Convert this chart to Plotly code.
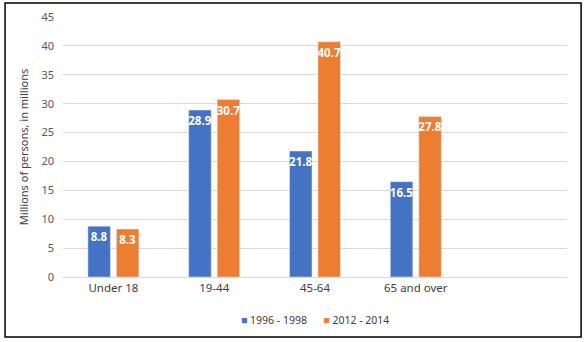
import plotly.graph_objects as go

categories = ["Under 18", "19-44", "45-64", "65 and over"]
series_1996 = [8.8, 28.9, 21.8, 16.5]
series_2012 = [8.3, 30.7, 40.7, 27.8]
series_names = ["1996 - 1998", "2012 - 2014"]
y_ticks = [0, 5, 10, 15, 20, 25, 30, 35, 40, 45]

BLUE = "#4472C4"
ORANGE = "#ED7D31"
GREY = "#595959"
FONT = "Noto Sans"

fig = go.Figure()
for name, vals, col in [(series_names[0], series_1996, BLUE), (series_names[1], series_2012, ORANGE)]:
    fig.add_trace(go.Bar(
        x=categories, y=vals, name=name, marker_color=col,
        text=[f"{v:.1f}" for v in vals], textposition="inside", textangle=0,
        insidetextanchor="end", constraintext="none", cliponaxis=False,
        textfont=dict(color="white", size=11.5, family=FONT, weight="bold"),
    ))

legend_text = (f"<span style='color:{BLUE}'>■</span> {series_names[0]}"
               f"      <span style='color:{ORANGE}'>■</span> {series_names[1]}")

fig.update_layout(
    width=587, height=342,
    margin=dict(l=63, r=20, t=17, b=65, autoexpand=False),
    paper_bgcolor="white", plot_bgcolor="white",
    barmode="group", bargap=0.435, bargroupgap=0.21,
    font=dict(family=FONT, size=10, color=GREY),
    showlegend=False,
    xaxis=dict(type="category", range=[-0.5, 4.5], showgrid=False, showline=True,
               linecolor="#D9D9D9", ticks="", tickfont=dict(size=11.5, color="#404040")),
    yaxis=dict(range=[0, 45], tickvals=y_ticks, showgrid=True, gridcolor="#D9D9D9",
               zeroline=False, showline=False, ticks="", ticklabelstandoff=8,
               title=dict(text="Millions of persons, in millions", font=dict(size=11, color="#404040"), standoff=10),
               tickfont=dict(size=11, color=GREY)),
    annotations=[dict(text=legend_text, xref="paper", yref="paper", x=0.5, y=-0.165,
                      xanchor="center", yanchor="middle", showarrow=False,
                      font=dict(size=10.5, color="#404040"))],
    shapes=[dict(type="rect", xref="paper", yref="paper",
                 x0=-0.115, x1=1.028, y0=-0.2308, y1=1.054,
                 line=dict(color="black", width=1.5))],
)

fig.write_html("out.html")
